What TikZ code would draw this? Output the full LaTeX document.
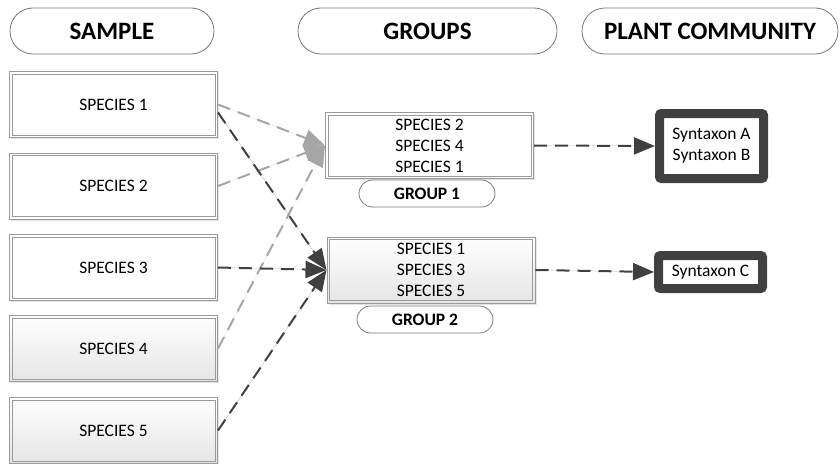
\documentclass[tikz,border=0pt]{standalone}
\usepackage{fontspec}
\setmainfont{Carlito}
\usetikzlibrary{arrows.meta,shadows,shapes.misc}

\definecolor{darkline}{HTML}{404040}
\definecolor{lightline}{HTML}{A6A6A6}
\definecolor{boxedge}{HTML}{9A9A9A}
\definecolor{pilledge}{HTML}{7A7A7A}

\tikzset{
  header/.style={draw=pilledge, line width=0.8pt, rounded rectangle, fill=white,
    minimum width=#1, minimum height=46pt, inner sep=0pt,
    font=\fontsize{25}{28}\selectfont\bfseries},
  grouplabel/.style={draw=pilledge, line width=0.8pt, rounded rectangle, fill=white,
    minimum width=136pt, minimum height=27pt, inner sep=0pt,
    font=\fontsize{17.5}{20}\selectfont\bfseries},
  speciesbox/.style={draw=boxedge, line width=1pt,
    minimum width=208pt, minimum height=66pt, inner sep=0pt, align=center,
    font=\fontsize{17.5}{21}\selectfont,
    drop shadow={shadow xshift=1.5pt, shadow yshift=-1.5pt, opacity=0.10, fill=black}},
  innerline/.style={draw=boxedge, line width=1pt},
  plainfill/.style={fill=white},
  fadefill/.style={top color=white, bottom color=black!10},
  syntaxon/.style={draw=darkline, line width=9pt, rounded corners=2pt, fill=white,
    minimum width=104pt, inner sep=0pt, align=center,
    font=\fontsize{17.5}{21}\selectfont,
    drop shadow={shadow xshift=1.5pt, shadow yshift=-1.5pt, opacity=0.15, fill=black}},
  link/.style={line width=2pt, dash pattern=on 13pt off 8pt,
    -{Triangle[length=21pt,width=17pt]}},
  darklink/.style={link, draw=darkline, fill=darkline},
  lightlink/.style={link, draw=lightline, fill=lightline},
}

\begin{document}
\begin{tikzpicture}[x=1pt,y=-1pt]
\useasboundingbox (0,0) rectangle (840,463);

% column headers
\node[header=204pt] (hsample) at (112,31) {SAMPLE};
\node[header=259pt] (hgroups) at (427.5,31) {GROUPS};
\node[header=256pt] (hcomm) at (710,31) {PLANT COMMUNITY};

% sample column
\node[speciesbox, plainfill] (s1) at (113.5,104.5) {SPECIES 1};
\node[speciesbox, plainfill] (s2) at (113.5,186) {SPECIES 2};
\node[speciesbox, plainfill] (s3) at (113.5,267.5) {SPECIES 3};
\node[speciesbox, fadefill] (s4) at (113.5,348.5) {SPECIES 4};
\node[speciesbox, fadefill] (s5) at (113.5,430.5) {SPECIES 5};

% groups
\node[speciesbox, plainfill] (g1) at (429.5,145.5) {SPECIES 2\\SPECIES 4\\SPECIES 1};
\node[grouplabel] (g1l) at (427,193.5) {GROUP 1};
\node[speciesbox, fadefill] (g2) at (431,270) {SPECIES 1\\SPECIES 3\\SPECIES 5};
\node[grouplabel] (g2l) at (425,319.5) {GROUP 2};

% inner frame of each double-lined box
\foreach \n in {s1,s2,s3,s4,s5,g1,g2}
  \draw[innerline] ([shift={(3pt,-3pt)}]\n.north west) rectangle ([shift={(-3pt,3pt)}]\n.south east);

% plant communities
\node[syntaxon, minimum height=65pt] (sab) at (711.5,146) {Syntaxon A\\Syntaxon B};
\node[syntaxon, minimum height=33pt] (sc) at (710.5,272) {Syntaxon C};

% memberships of group 1
\draw[lightlink] (s1.east) -- (g1.west);
\draw[lightlink] (s2.east) -- (g1.west);
\draw[lightlink] (s4.east) -- (g1.west);

% memberships of group 2
\draw[darklink] ([yshift=-8pt]s1.east) -- (g2.west);
\draw[darklink] (s3.east) -- (g2.west);
\draw[darklink] (s5.east) -- (g2.west);

% groups to syntaxa
\draw[darklink] (g1.east) -- (sab.west);
\draw[darklink] (g2.east) -- (sc.west);
\end{tikzpicture}
\end{document}
